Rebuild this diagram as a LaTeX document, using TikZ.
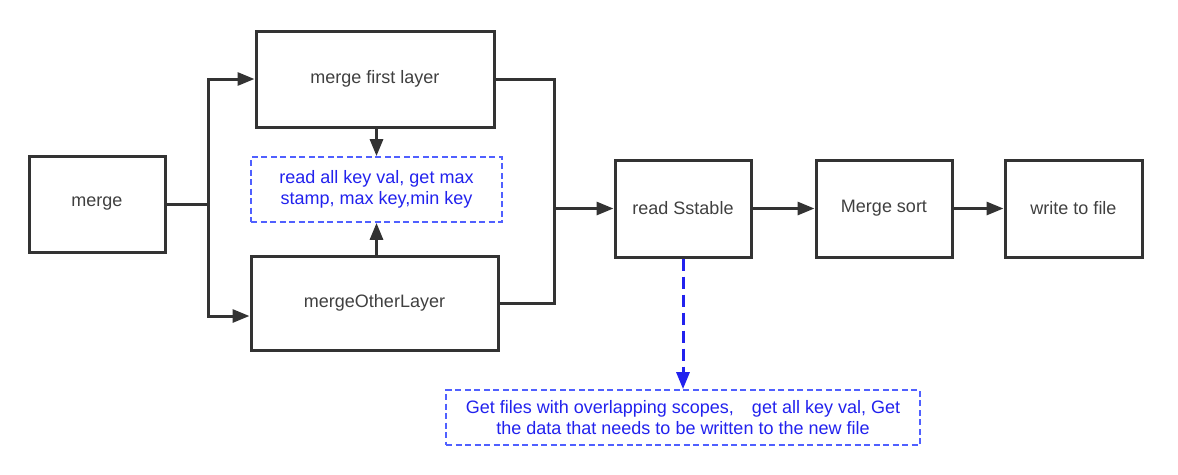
\documentclass[tikz,border=0pt]{standalone}
\usepackage{fontspec}
\setmainfont{Liberation Sans}
\usetikzlibrary{arrows.meta,calc}
\definecolor{ln}{HTML}{333333}
\definecolor{tx}{HTML}{404040}
\definecolor{bt}{HTML}{2222EE}
\definecolor{bb}{HTML}{5060FF}
\begin{document}
\begin{tikzpicture}[x=1pt,y=-1pt,
  box/.style={draw=ln,line width=3pt,rectangle,inner sep=0pt,text=tx,font=\fontsize{18}{22}\selectfont},
  note/.style={draw=bb,line width=1.8pt,dash pattern=on 6pt off 3.5pt,rectangle,inner sep=0pt,text=bt,align=center,font=\fontsize{18}{21}\selectfont},
  conn/.style={draw=ln,line width=3pt},
  arr/.style={conn,-{Triangle[length=17pt,width=13pt]}},
  barr/.style={draw=bt,line width=3pt,dash pattern=on 12pt off 6pt,-{Triangle[length=17pt,width=13pt]}}]
\useasboundingbox (0,0) rectangle (1178,474);
\fill[white] (0,0) rectangle (1178,474);
\node[box,minimum width=136pt,minimum height=96pt] (merge) at (97,204) {merge};
\node[box,minimum width=238pt,minimum height=96pt] (mfl) at (375,79) {merge first layer};
\node[note,minimum width=251pt,minimum height=65pt] (rd) at (376.5,189.5) {read all key val, get max\\stamp, max key,min key};
\node[box,minimum width=247pt,minimum height=94pt] (mol) at (374.5,303) {mergeOtherLayer};
\node[box,minimum width=136pt,minimum height=97pt] (rs) at (683,208.5) {read Sstable};
\node[box,minimum width=136pt,minimum height=97pt] (ms) at (884,208.5) {Merge sort};
\node[box,minimum width=137pt,minimum height=97pt] (wf) at (1073.5,208.5) {write to file};
\node[note,minimum width=474pt,minimum height=55pt] (gf) at (683,417.5) {Get files with overlapping scopes,\quad get all key val, Get\\the data that needs to be written to the new file};
\coordinate (tl) at (208,204);
\coordinate (tr) at (554,208.5);
\coordinate (molin) at ($(mol.west)+(0,13)$);
\draw[conn] (merge.east) -- (tl);
\draw[arr] (tl) |- (mfl.west);
\draw[arr] (tl) |- (molin);
\draw[conn] (mfl.east) -| (tr);
\draw[conn] (mol.east) -| (tr);
\draw[arr] (tr) -- (rs.west);
\draw[arr] (mfl.south -| rd.north) -- (rd.north);
\draw[arr] (mol.north -| rd.south) -- (rd.south);
\draw[arr] (rs.east) -- (ms.west);
\draw[arr] (ms.east) -- (wf.west);
\draw[barr] (rs.south) -- (gf.north);
\end{tikzpicture}
\end{document}
